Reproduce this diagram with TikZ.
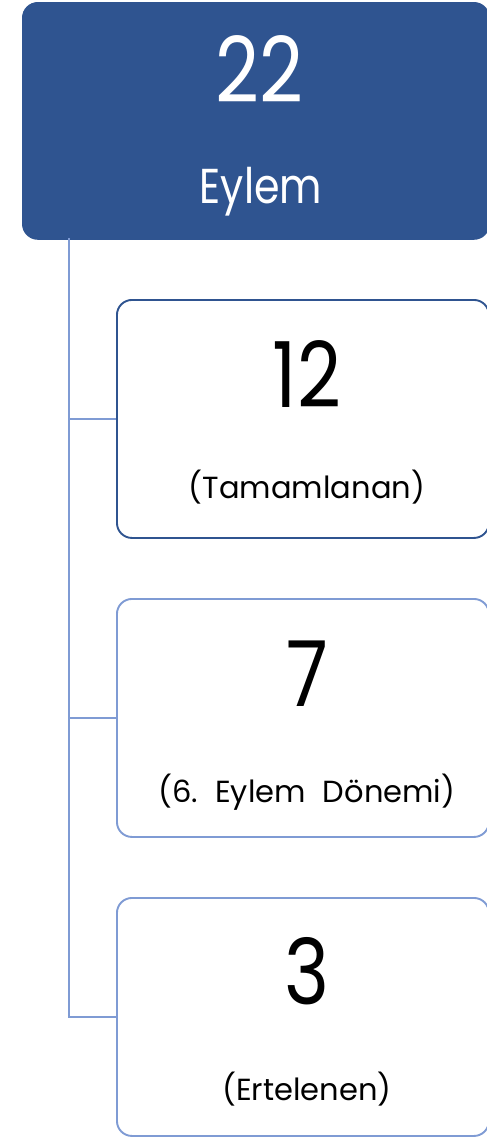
\documentclass[tikz,border=0pt]{standalone}
\usepackage{fontspec}
\setmainfont{Poppins}
\newfontfamily\narrowfont[FakeStretch=0.84]{Poppins}
\definecolor{darkblue}{HTML}{2F5490}
\definecolor{lightblue}{HTML}{7F9BD4}
\tikzset{
  topbox/.style={draw=darkblue, fill=darkblue, line width=1.8pt, rounded corners=15pt, minimum width=466pt, minimum height=236pt, inner sep=0pt},
  childbox/.style={draw=#1, fill=white, line width=1.9pt, rounded corners=15pt, minimum width=372pt, minimum height=238pt, inner sep=0pt},
  conn/.style={draw=lightblue, line width=2pt},
  bignum/.style={font=\narrowfont\fontsize{91}{91}\selectfont, anchor=base, inner sep=0pt},
  toplabel/.style={font=\narrowfont\fontsize{49}{49}\selectfont, anchor=base, inner sep=0pt, text=white},
  sublabel/.style={font=\fontsize{30.5}{30.5}\selectfont, anchor=base, inner sep=0pt},
}
\begin{document}
\begin{tikzpicture}[x=1pt,y=1pt]
\useasboundingbox (0,0) rectangle (487,-1138);
\node[topbox, anchor=north west] (top) at (22,-2) {};
\node[bignum, text=white] (topnum) at (259,-102) {22};
\node[toplabel] (toplab) at (261,-203) {Eylem};

\node[childbox=darkblue, anchor=north west] (b1) at (116,-299) {};
\node[childbox=lightblue, anchor=north west] (b2) at (116,-598) {};
\node[childbox=lightblue, anchor=north west] (b3) at (116,-897) {};

\node[bignum] (n1) at (307,-407) {12};
\node[sublabel] (l1) at (307,-498) {(Tamamlanan)};
\node[bignum] (n2) at (307,-706) {7};
\node[sublabel] (l2) at (307,-802) {(6.\hspace{17pt}Eylem\hspace{17pt}Dönemi)};
\node[bignum] (n3) at (307,-1004) {3};
\node[sublabel] (l3) at (307,-1100) {(Ertelenen)};

\coordinate (trunk) at (69,-238);
\draw[conn] (trunk) |- (b1.west);
\draw[conn] (trunk) |- (b2.west);
\draw[conn] (trunk) |- (b3.west);
\end{tikzpicture}
\end{document}
